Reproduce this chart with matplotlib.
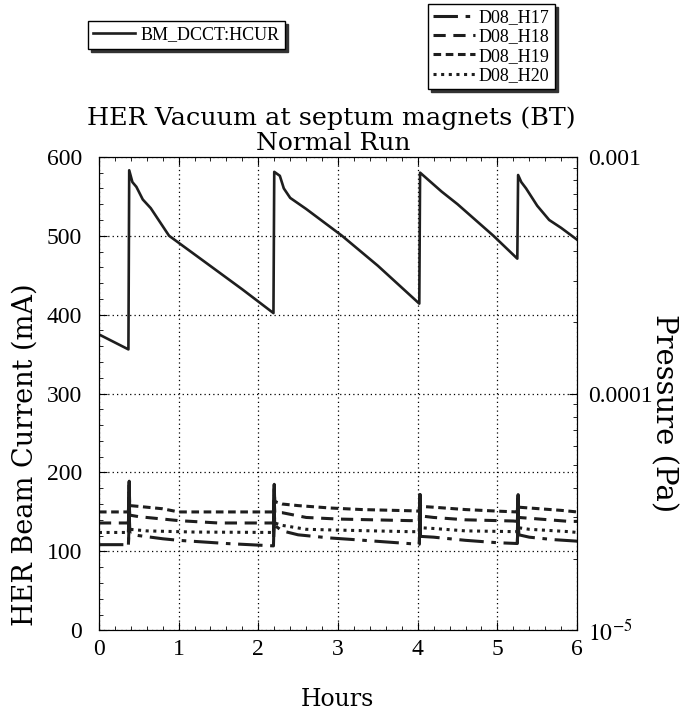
import matplotlib.pyplot as plt
import numpy as np
from matplotlib.ticker import MultipleLocator, FixedLocator, FixedFormatter, LogLocator

plt.rcParams['font.family'] = ['Liberation Serif', 'DejaVu Serif']
plt.rcParams['mathtext.fontset'] = 'stix'

# --- beam current (mA) ---
beam_t = [0, 0.37, 0.38, 0.42, 0.47, 0.55, 0.65, 0.88, 1.3, 1.8, 2.19,
          2.2, 2.27, 2.32, 2.40, 2.6, 3.05, 3.5, 4.02,
          4.03, 4.12, 4.3, 4.5, 4.95, 5.25,
          5.26, 5.3, 5.36, 5.5, 5.65, 5.8, 6.0]
beam_i = [375, 356, 583, 568, 562, 546, 535, 500, 469, 432, 402,
          581, 576, 560, 548, 534, 500, 462, 414,
          580, 572, 556, 540, 500, 471,
          577, 568, 560, 538, 520, 510, 495]

# injection times (hours)
inject_t = [0.38, 2.2, 4.03, 5.26]

# --- pressures (x1e-5 Pa) ---
h19_t = [0, 0.37, 0.38, 0.385, 0.39, 0.5, 0.8, 1.0, 1.5, 2.19,
         2.2, 2.205, 2.21, 2.3, 2.5, 2.9, 3.3, 3.9, 4.02,
         4.03, 4.035, 4.04, 4.2, 4.6, 5.0, 5.25,
         5.26, 5.265, 5.27, 5.4, 5.8, 6.0]
h19_p = [3.162, 3.162, 4.266, 3.415, 3.363, 3.337, 3.261, 3.162, 3.162, 3.162,
         4.137, 3.548, 3.494, 3.415, 3.363, 3.286, 3.236, 3.199, 3.187,
         3.743, 3.363, 3.337, 3.311, 3.236, 3.187, 3.162,
         3.743, 3.337, 3.311, 3.286, 3.211, 3.162]

h18_t = [0, 0.37, 0.38, 0.385, 0.5, 1.0, 1.5, 2.19,
         2.2, 2.205, 2.3, 2.6, 3.0, 3.9, 4.02,
         4.03, 4.035, 4.2, 4.6, 5.2, 5.25,
         5.26, 5.265, 5.4, 5.9, 6.0]
h18_p = [2.840, 2.840, 3.831, 3.066, 3.020, 2.906, 2.840, 2.840,
         3.687, 3.139, 3.139, 2.997, 2.951, 2.906, 2.906,
         3.548, 3.043, 2.997, 2.929, 2.895, 2.884,
         3.415, 2.997, 2.974, 2.884, 2.884]

h20_t = [0, 0.37, 0.38, 0.385, 0.6, 1.2, 2.19,
         2.2, 2.205, 2.3, 2.6, 3.0, 3.9, 4.02,
         4.03, 4.035, 4.2, 4.6, 5.25,
         5.26, 5.265, 5.4, 5.9, 6.0]
h20_p = [2.590, 2.590, 3.415, 2.671, 2.630, 2.600, 2.590,
         3.286, 2.840, 2.775, 2.671, 2.650, 2.610, 2.610,
         3.162, 2.712, 2.692, 2.630, 2.610,
         3.162, 2.712, 2.671, 2.610, 2.590]

h17_t = [0, 0.37, 0.38, 0.39, 0.5, 0.8, 1.0, 1.6, 2.19,
         2.2, 2.205, 2.3, 2.5, 2.9, 3.2, 3.6, 4.02,
         4.03, 4.035, 4.2, 4.6, 5.0, 5.25,
         5.26, 5.27, 5.4, 5.7, 6.0]
h17_p = [2.300, 2.300, 2.929, 2.551, 2.512, 2.436, 2.399, 2.326, 2.273,
         3.043, 2.775, 2.630, 2.531, 2.455, 2.416, 2.362, 2.308,
         3.043, 2.493, 2.474, 2.399, 2.344, 2.326,
         2.929, 2.531, 2.474, 2.416, 2.380]

INK = '#1e1e1e'
TITLE_FONT = ['DejaVu Serif']

fig = plt.figure(figsize=(6.87, 7.13), dpi=100)
ax = fig.add_axes([0.144, 0.116, 0.696, 0.664])

beam_line, = ax.plot(beam_t, beam_i, color=INK, lw=1.9)
ax.set_xlim(0, 6)
ax.set_ylim(0, 600)
ax.xaxis.set_major_locator(MultipleLocator(1))
ax.xaxis.set_minor_locator(MultipleLocator(0.2))
ax.yaxis.set_major_locator(MultipleLocator(100))
ax.yaxis.set_minor_locator(MultipleLocator(20))
ax.grid(True, which='major', linestyle=(0, (1, 2.5)), color='black', lw=0.9)
ax.tick_params(which='both', direction='in', top=True, labelsize=17)
ax.tick_params(which='major', length=6)
ax.tick_params(which='minor', length=3)
ax.tick_params(axis='y', pad=12)
ax.tick_params(axis='x', pad=6)

ax2 = ax.twinx()
styles = {
    'D08_H17': (h17_t, h17_p, (0, (8, 2.5, 1.5, 2.5))),
    'D08_H18': (h18_t, h18_p, (0, (4, 2.5))),
    'D08_H19': (h19_t, h19_p, (0, (2.5, 1.5))),
    'D08_H20': (h20_t, h20_p, (0, (1, 1.5))),
}
p_lines = []
for name, (t, p, ls) in styles.items():
    t = np.array(t)
    p = np.array(p) * 1e-5
    ln, = ax2.plot(t, p, color=INK, lw=2.2, linestyle=ls, label=name)
    p_lines.append(ln)
    # the injection spikes print as one solid stroke
    for ti in inject_t:
        m = (t >= ti - 0.011) & (t <= ti + 0.006)
        ax2.plot(t[m], p[m], color=INK, lw=2.2, solid_capstyle='butt')
ax2.set_yscale('log')
ax2.set_ylim(1e-5, 1e-3)
ax2.yaxis.set_major_locator(FixedLocator([1e-5, 1e-4, 1e-3]))
ax2.yaxis.set_major_formatter(FixedFormatter([r'$10^{-5}$', '0.0001', '0.001']))
ax2.yaxis.set_minor_locator(LogLocator(base=10, subs=np.arange(2, 10)))
ax2.yaxis.set_minor_formatter(FixedFormatter([]))
ax2.tick_params(which='both', direction='in', labelsize=17, pad=8)
ax2.tick_params(which='major', length=6)
ax2.tick_params(which='minor', length=3)

fig.text(0.482, 1 - 118 / 713, 'HER Vacuum at septum magnets (BT)', ha='center', va='center',
         fontsize=18.3, family=TITLE_FONT)
fig.text(0.485, 1 - 143 / 713, 'Normal Run', ha='center', va='center', fontsize=18,
         family=TITLE_FONT)
fig.text(25 / 687, 1 - 455 / 713, 'HER Beam Current (mA)', rotation=90, ha='center',
         va='center', fontsize=19.5, family=TITLE_FONT)
fig.text(664 / 687, 1 - 413 / 713, 'Pressure (Pa)', rotation=-90, ha='center', va='center',
         fontsize=21, family=TITLE_FONT)
fig.text(337 / 687, 1 - 700 / 713, 'Hours', ha='center', va='center', fontsize=17,
         family=TITLE_FONT)

shadow = {'color': '#333333', 'alpha': 1}
fig.legend(handles=[beam_line], labels=['BM_DCCT:HCUR'], loc='upper left',
           bbox_to_anchor=(88 / 687, 1 - 21 / 713), fancybox=False, shadow=shadow,
           edgecolor='black', framealpha=1, fontsize=13, handlelength=2.3,
           borderpad=0.3, handletextpad=0.3, borderaxespad=0)
fig.legend(handles=p_lines, loc='upper left', bbox_to_anchor=(428 / 687, 1 - 4 / 713),
           fancybox=False, shadow=shadow, edgecolor='black', framealpha=1, fontsize=13,
           handlelength=2.3, borderpad=0.3, labelspacing=0.12, handletextpad=0.2,
           borderaxespad=0)

fig.savefig('out.png', dpi=100)
